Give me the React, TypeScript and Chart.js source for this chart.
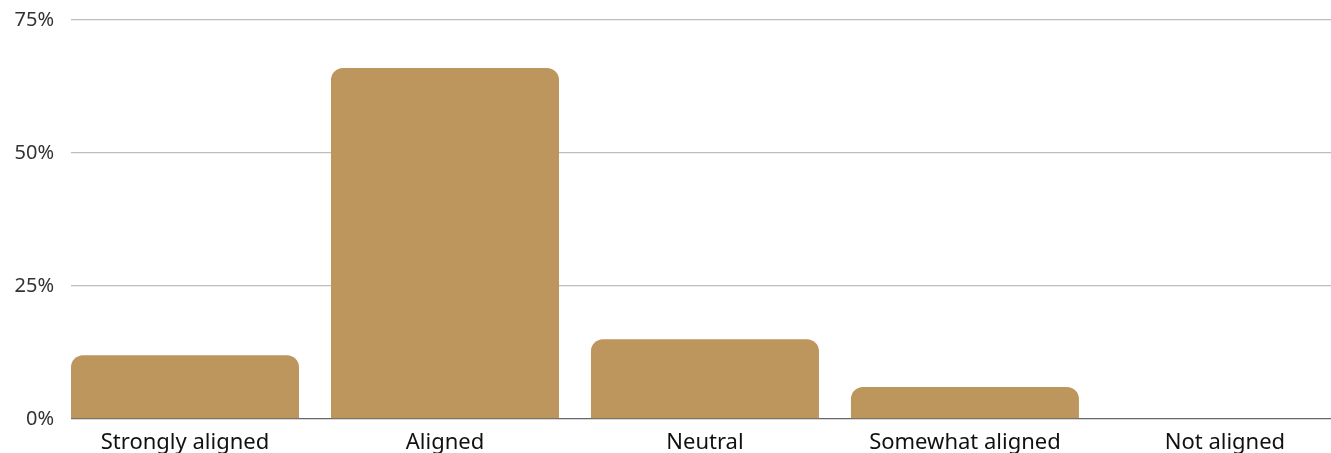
import React, { useEffect, useRef } from "react";
import { Chart, registerables } from "chart.js";

Chart.register(...registerables);

const categories = ["Strongly aligned", "Aligned", "Neutral", "Somewhat aligned", "Not aligned"];
const shares = [12, 66, 15, 6, 0];
const yTicks = [0, 25, 50, 75];

export default function App() {
  const ref = useRef<HTMLCanvasElement | null>(null);
  useEffect(() => {
    if (!ref.current) return;
    const font = "'Noto Sans', 'Open Sans', sans-serif";
    const chart = new Chart(ref.current, {
      type: "bar",
      data: {
        datasets: [
          {
            data: shares.map((v, i) => ({ x: i, y: v })),
            backgroundColor: "#BD965E",
            borderRadius: { topLeft: 12, topRight: 12, bottomLeft: 0, bottomRight: 0 },
            borderSkipped: "bottom",
            categoryPercentage: 1,
            barPercentage: 0.877,
          },
        ],
      },
      options: {
        animation: false,
        responsive: false,
        maintainAspectRatio: false,
        layout: { padding: { top: 20, right: 0, left: 0, bottom: 0 } },
        plugins: { legend: { display: false }, tooltip: { enabled: false }, title: { display: false } },
        scales: {
          x: {
            type: "linear",
            min: -0.4385,
            max: 4.408,
            offset: false,
            grid: { display: false, drawTicks: false },
            border: { display: false },
            afterBuildTicks: (axis: any) => {
              axis.ticks = categories.map((_, i) => ({ value: i }));
            },
            afterFit: (scale: any) => {
              scale.height = 34;
              scale.paddingLeft = 0;
              scale.paddingRight = 0;
            },
            ticks: {
              autoSkip: false,
              maxRotation: 0,
              padding: 11,
              color: "#111",
              font: { family: font, size: 22 },
              callback: (v: any) => categories[Number(v)] ?? "",
            },
          },
          y: {
            min: 0,
            max: 75,
            afterBuildTicks: (axis: any) => {
              axis.ticks = yTicks.map((v) => ({ value: v }));
            },
            afterFit: (scale: any) => {
              scale.width = 71;
              scale.paddingTop = 0;
              scale.paddingBottom = 0;
            },
            grid: {
              drawTicks: false,
              lineWidth: 1.3,
              color: (ctx: any) => (ctx.tick && ctx.tick.value === 0 ? "#666" : "#bdbdbd"),
            },
            border: { display: false },
            ticks: {
              padding: 17,
              color: "#333",
              font: { family: font, size: 20 },
              callback: (v: any) => v + "%",
            },
          },
        },
      },
    });
    return () => chart.destroy();
  }, []);
  return (
    <div style={{ position: "absolute", left: 0, top: 0, width: 1331, height: 453, overflow: "hidden", background: "#fff" }}>
      <canvas ref={ref} width={1331} height={453} style={{ display: "block" }} />
    </div>
  );
}
